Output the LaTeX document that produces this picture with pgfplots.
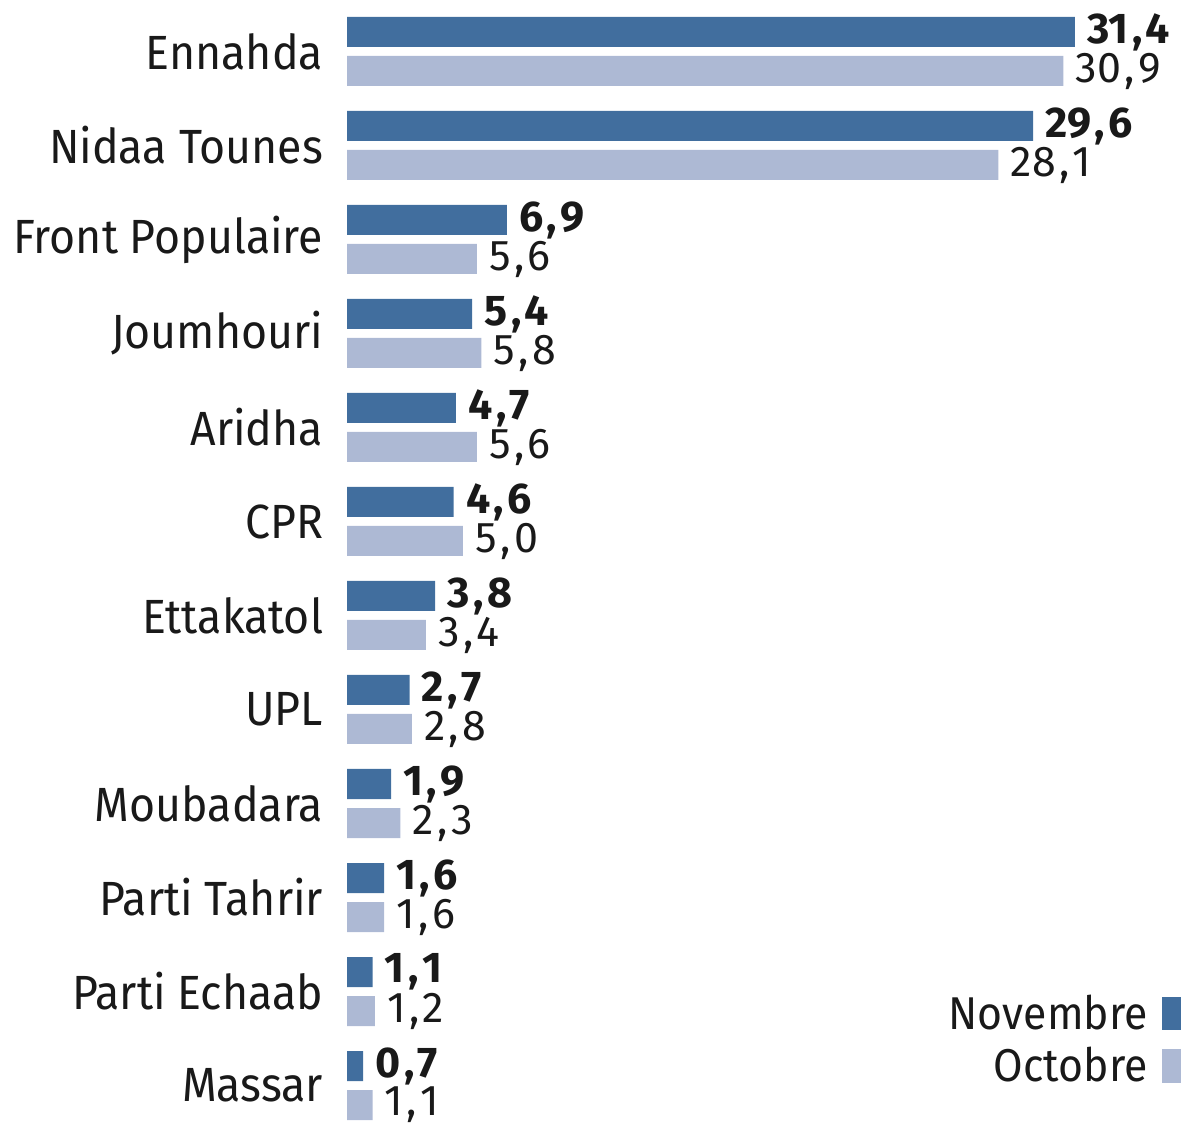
\documentclass[border=0pt]{standalone}
\usepackage{fontspec}
\setmainfont{Fira Sans}[FakeStretch=0.93]
\newfontfamily\numfont{Fira Sans}
\usepackage{pgfplots}
\pgfplotsset{compat=1.18}
\definecolor{nov}{HTML}{416E9E}
\definecolor{oct}{HTML}{ADB9D4}
\begin{document}
\begin{tikzpicture}
\begin{axis}[
  at={(173.5pt,-4.25pt)}, anchor=south west,
  scale only axis, width=405.65pt, height=564pt,
  xmin=0, xmax=35, ymin=-0.5, ymax=11.5,
  xbar, bar width=15pt,
  axis line style={draw=none}, tick style={draw=none},
  xtick=\empty,
  ytick={0,...,11},
  yticklabels={Massar,Parti Echaab,Parti Tahrir,Moubadara,UPL,Ettakatol,CPR,Aridha,Joumhouri,Front Populaire,Nidaa Tounes,Ennahda},
  yticklabel style={font=\fontsize{24}{28}\selectfont, inner sep=0pt, xshift=-7.5pt, text=black!90},
  clip=false,
  point meta=x,
  nodes near coords,
  /pgf/number format/.cd, assume math mode=true, fixed, fixed zerofill, precision=1, set decimal separator={\kern0.08em,\kern0.08em},
]
\addplot[draw=none, fill=nov, bar shift=9.75pt,
  nodes near coords style={font=\numfont\fontsize{21.5}{24}\selectfont\bfseries, anchor=west, inner sep=0pt, xshift=6pt, text=black!90}]
  coordinates {(0.7,0) (1.1,1) (1.6,2) (1.9,3) (2.7,4) (3.8,5) (4.6,6) (4.7,7) (5.4,8) (6.9,9) (29.6,10) (31.4,11)};
\addplot[draw=none, fill=oct, bar shift=-9.75pt,
  nodes near coords style={font=\numfont\fontsize{21.5}{24}\selectfont, anchor=west, inner sep=0pt, xshift=6pt, text=black!90}]
  coordinates {(1.1,0) (1.2,1) (1.6,2) (2.3,3) (2.8,4) (3.4,5) (5.0,6) (5.6,7) (5.8,8) (5.6,9) (28.1,10) (30.9,11)};
\end{axis}
\fill[nov] (581pt,47pt) rectangle (590.5pt,63.5pt);
\fill[oct] (581pt,20.5pt) rectangle (590.5pt,37.5pt);
\node[anchor=east, inner sep=0pt, font=\fontsize{23}{27}\selectfont, text=black!90] at (574pt,55.5pt) {Novembre};
\node[anchor=east, inner sep=0pt, font=\fontsize{23}{27}\selectfont, text=black!90] at (574pt,29.5pt) {Octobre};
\pgfresetboundingbox
\path[use as bounding box] (0,0) rectangle (590.5pt,562pt);
\end{tikzpicture}
\end{document}
